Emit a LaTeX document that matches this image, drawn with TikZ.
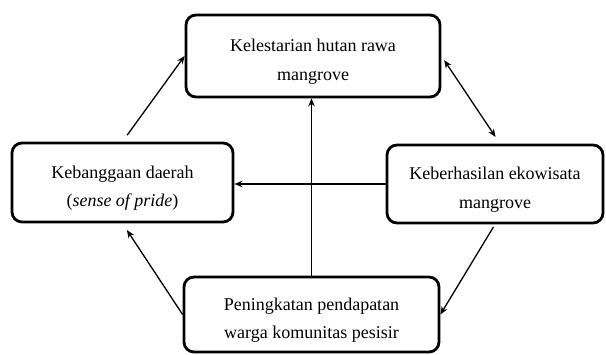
\documentclass[tikz,border=0pt]{standalone}
\usepackage{fontspec}
\setmainfont{Liberation Serif}
\usetikzlibrary{arrows.meta}
\newcommand{\turun}{\rule{0pt}{24pt}}
\begin{document}
\begin{tikzpicture}[x=1pt, y=1pt, line join=round, >={Stealth[length=8pt,width=6.5pt]}]
    \tikzset{kotak/.style={draw, line width=2.8pt, rounded corners=10pt, align=center,
                 font=\fontsize{18}{28.5}\selectfont},
             panah/.style={line width=1.3pt}}
    \useasboundingbox (0,0) rectangle (606,354);
    \node[kotak, minimum width=254, minimum height=82] (lestari) at (313,298) {\turun Kelestarian hutan rawa\\mangrove};
    \node[kotak, minimum width=221, minimum height=79] (bangga) at (122.5,171.5) {\turun Kebanggaan daerah\\(\textit{sense of pride})};
    \node[kotak, minimum width=216, minimum height=78] (ekowisata) at (495,170) {\turun Keberhasilan ekowisata\\mangrove};
    \node[kotak, minimum width=255, minimum height=75] (pendapatan) at (311.5,39.5) {\turun Peningkatan pendapatan\\warga komunitas pesisir};
    % panah antar kotak
    \draw[panah,->,shorten <=8pt] (bangga.north) -- (lestari.west);
    \draw[panah,<->,shorten <=5pt,shorten >=8pt] (lestari.east) -- ([xshift=5pt]ekowisata.north);
    \draw[panah,->] (ekowisata.west) -- (ekowisata.west -| bangga.east);
    \draw[panah,->] (pendapatan.north) -- (pendapatan.north |- lestari.south);
    \draw[panah,->,shorten <=3pt] (ekowisata.south) -- (pendapatan.east);
    \draw[panah,->,shorten >=8pt] (pendapatan.west) -- (bangga.south);
\end{tikzpicture}
\end{document}
